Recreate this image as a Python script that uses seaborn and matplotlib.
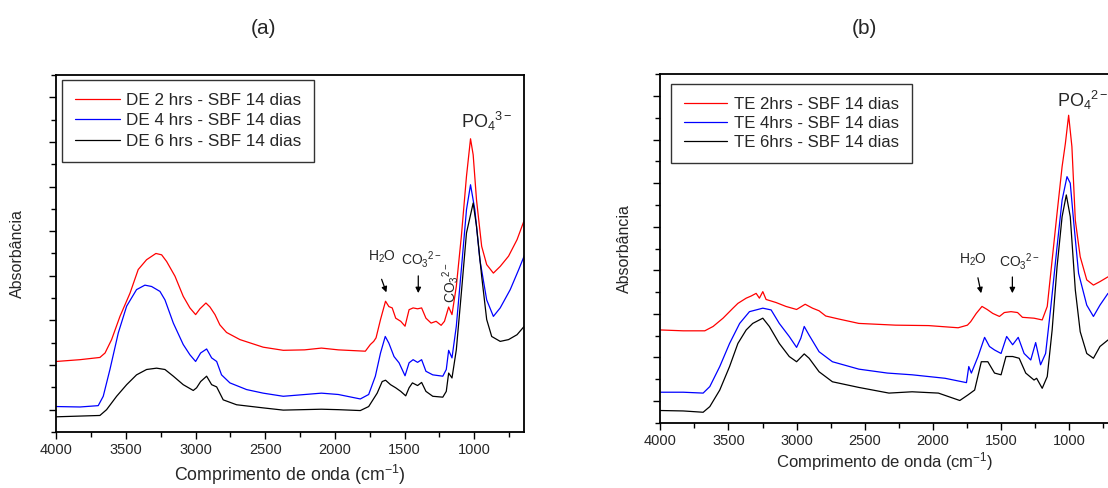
import seaborn as sns
import matplotlib.pyplot as plt
import pandas as pd
import matplotlib.ticker as ticker

# ---- panel (a): DE samples ----
de2_wn = [4000, 3830, 3687, 3650, 3603, 3543, 3471, 3412, 3352, 3285,
          3244, 3208, 3148, 3089, 3041, 3000, 2969, 2926, 2897, 2861,
          2826, 2778, 2682, 2515, 2371, 2218, 2097, 1976, 1782, 1746,
          1722, 1705, 1673, 1637, 1613, 1589, 1564, 1528, 1497, 1468,
          1439, 1407, 1378, 1347, 1310, 1274, 1238, 1214, 1184, 1160,
          1129, 1093, 1056, 1027, 1008, 984, 947, 911, 863, 814,
          754, 693, 641]
de2_abs = [1.08, 1.12, 1.17, 1.27, 1.57, 2.09, 2.61, 3.14, 3.36, 3.50,
           3.47, 3.32, 2.99, 2.54, 2.28, 2.13, 2.26, 2.39, 2.30, 2.13,
           1.90, 1.73, 1.57, 1.40, 1.33, 1.34, 1.38, 1.34, 1.31, 1.46,
           1.53, 1.61, 2.02, 2.43, 2.31, 2.28, 2.05, 1.98, 1.87, 2.24,
           2.28, 2.26, 2.28, 2.05, 1.94, 1.98, 1.89, 1.98, 2.30, 2.13,
           2.76, 3.88, 5.23, 6.07, 5.71, 4.70, 3.66, 3.25, 3.06, 3.21,
           3.44, 3.81, 4.25]

de4_wn = [4000, 3830, 3699, 3663, 3615, 3555, 3495, 3424, 3364, 3316,
          3256, 3220, 3160, 3089, 3041, 3000, 2964, 2921, 2885, 2849,
          2814, 2754, 2634, 2515, 2371, 2097, 1976, 1818, 1758, 1710,
          1673, 1639, 1613, 1576, 1540, 1497, 1468, 1439, 1407, 1378,
          1347, 1298, 1226, 1201, 1184, 1160, 1129, 1093, 1056, 1027,
          996, 960, 911, 863, 814, 742, 681, 641]
de4_abs = [0.07, 0.06, 0.09, 0.30, 0.90, 1.72, 2.32, 2.69, 2.79, 2.76,
           2.65, 2.46, 1.94, 1.46, 1.23, 1.08, 1.27, 1.36, 1.16, 1.08,
           0.78, 0.60, 0.45, 0.37, 0.30, 0.37, 0.34, 0.24, 0.34, 0.75,
           1.27, 1.64, 1.49, 1.19, 1.05, 0.76, 1.05, 1.12, 1.06, 1.12,
           0.86, 0.78, 0.75, 0.90, 1.33, 1.16, 1.87, 3.14, 4.48, 5.04,
           4.48, 3.36, 2.46, 2.09, 2.28, 2.69, 3.14, 3.45]

de6_wn = [4000, 3687, 3639, 3567, 3495, 3424, 3352, 3280, 3220, 3160,
          3089, 3017, 2993, 2964, 2921, 2885, 2849, 2802, 2706, 2515,
          2371, 2097, 1976, 1818, 1758, 1697, 1661, 1637, 1601, 1564,
          1528, 1492, 1468, 1444, 1407, 1378, 1347, 1298, 1226, 1201,
          1184, 1160, 1129, 1093, 1056, 1008, 984, 947, 911, 875,
          814, 754, 693, 641]
de6_abs = [-0.16, -0.13, 0.00, 0.30, 0.56, 0.78, 0.90, 0.93, 0.90, 0.75,
           0.56, 0.43, 0.49, 0.63, 0.75, 0.56, 0.51, 0.22, 0.11, 0.04,
           -0.01, 0.01, 0.00, -0.02, 0.07, 0.37, 0.63, 0.66, 0.56, 0.49,
           0.41, 0.31, 0.49, 0.60, 0.54, 0.61, 0.41, 0.30, 0.28, 0.41,
           0.82, 0.71, 1.34, 2.61, 3.96, 4.63, 4.11, 2.99, 2.02, 1.64,
           1.53, 1.57, 1.68, 1.87]

# ---- panel (b): TE samples ----
te2_wn = [4000, 3832, 3674, 3613, 3540, 3467, 3431, 3370, 3333, 3297,
          3273, 3248, 3224, 3151, 3078, 3000, 2937, 2883, 2835, 2786,
          2689, 2543, 2273, 2031, 1814, 1746, 1722, 1681, 1639, 1601,
          1560, 1511, 1475, 1426, 1378, 1342, 1257, 1197, 1160, 1124,
          1088, 1051, 1027, 1003, 979, 954, 918, 870, 821, 773,
          714]
te2_abs = [1.63, 1.61, 1.61, 1.71, 1.90, 2.13, 2.24, 2.36, 2.41, 2.47,
           2.36, 2.51, 2.33, 2.26, 2.17, 2.10, 2.22, 2.13, 2.07, 1.95,
           1.88, 1.78, 1.74, 1.73, 1.68, 1.74, 1.82, 2.01, 2.17, 2.10,
           2.01, 1.94, 2.03, 2.05, 2.03, 1.92, 1.90, 1.86, 2.17, 3.24,
           4.31, 5.38, 5.91, 6.56, 5.84, 4.15, 3.31, 2.78, 2.66, 2.74,
           2.85]

te4_wn = [4000, 3832, 3686, 3637, 3564, 3492, 3418, 3346, 3248, 3187,
          3127, 3054, 3000, 2969, 2944, 2908, 2835, 2737, 2543, 2334,
          2152, 1910, 1753, 1736, 1717, 1668, 1620, 1584, 1547, 1499,
          1458, 1414, 1373, 1330, 1281, 1245, 1209, 1172, 1136, 1088,
          1051, 1015, 991, 967, 930, 870, 821, 773, 714]
te4_abs = [0.20, 0.20, 0.18, 0.33, 0.79, 1.32, 1.78, 2.05, 2.13, 2.09,
           1.78, 1.48, 1.23, 1.44, 1.71, 1.51, 1.13, 0.90, 0.73, 0.64,
           0.60, 0.52, 0.42, 0.79, 0.64, 1.02, 1.46, 1.25, 1.17, 1.09,
           1.48, 1.29, 1.46, 1.09, 0.94, 1.34, 0.83, 1.09, 2.09, 3.54,
           4.61, 5.15, 5.00, 4.15, 2.93, 2.20, 1.94, 2.20, 2.47]

te6_wn = [4000, 3832, 3686, 3637, 3564, 3492, 3431, 3370, 3322, 3248,
          3200, 3127, 3054, 3000, 2944, 2908, 2835, 2737, 2543, 2322,
          2152, 1959, 1802, 1741, 1693, 1644, 1596, 1547, 1499, 1463,
          1414, 1366, 1318, 1257, 1238, 1197, 1160, 1124, 1088, 1051,
          1020, 991, 954, 918, 870, 821, 773, 714]
te6_abs = [-0.22, -0.23, -0.26, -0.13, 0.25, 0.79, 1.32, 1.63, 1.78, 1.90,
           1.71, 1.32, 1.02, 0.90, 1.08, 0.98, 0.67, 0.44, 0.31, 0.18,
           0.21, 0.18, 0.01, 0.14, 0.25, 0.90, 0.90, 0.64, 0.60, 1.02,
           1.02, 0.98, 0.64, 0.48, 0.52, 0.29, 0.56, 1.63, 3.08, 4.23,
           4.73, 4.23, 2.55, 1.59, 1.09, 0.98, 1.25, 1.40]

de_labels = ['DE 2 hrs - SBF 14 dias', 'DE 4 hrs - SBF 14 dias', 'DE 6 hrs - SBF 14 dias']
te_labels = ['TE 2hrs - SBF 14 dias', 'TE 4hrs - SBF 14 dias', 'TE 6hrs - SBF 14 dias']
colors = ['#ff0000', '#0000ff', '#000000']

sns.set_theme(style="white")
plt.rcParams['font.family'] = ['Liberation Sans', 'DejaVu Sans']
plt.rcParams['mathtext.fontset'] = 'custom'
plt.rcParams['mathtext.rm'] = 'Liberation Sans'
plt.rcParams['mathtext.it'] = 'Liberation Sans:italic'
plt.rcParams['axes.edgecolor'] = 'black'
plt.rcParams['axes.linewidth'] = 1.3


def make_df(series, labels):
    frames = []
    for (wn, ab), lab in zip(series, labels):
        frames.append(pd.DataFrame({'wn': wn, 'abs': ab, 'sample': lab}))
    return pd.concat(frames, ignore_index=True)


def style_axes(ax, xmin, label_size):
    ax.set_xlim(4000, xmin)
    ax.set_ylim(-0.5, 7.5)
    ax.xaxis.set_major_locator(ticker.MultipleLocator(500))
    ax.xaxis.set_minor_locator(ticker.MultipleLocator(250))
    ax.yaxis.set_major_locator(ticker.MultipleLocator(1))
    ax.yaxis.set_minor_locator(ticker.MultipleLocator(0.5))
    ax.yaxis.set_major_formatter(ticker.NullFormatter())
    ax.tick_params(which='both', direction='out', left=True, bottom=True,
                   top=False, right=False, color='black', width=1)
    ax.tick_params(which='major', length=5, labelsize=10.5, pad=3)
    ax.tick_params(which='minor', length=3.3)
    ax.set_xlabel('Comprimento de onda (cm$^{-1}$)', fontsize=label_size)
    ax.set_ylabel('Absorbância', fontsize=11.5)


def draw_panel(ax, df, labels, xmin, legend_anchor, leg_size, label_size, spacing):
    sns.lineplot(data=df, x='wn', y='abs', hue='sample', palette=colors,
                 hue_order=labels, sort=False, estimator=None, lw=0.9,
                 legend=False, ax=ax)
    style_axes(ax, xmin, label_size)
    leg = ax.legend(ax.lines[:3], labels, loc='upper left',
                    bbox_to_anchor=legend_anchor, borderaxespad=0,
                    fontsize=leg_size, handlelength=2.6, handletextpad=0.4,
                    labelspacing=spacing, borderpad=0.75, fancybox=False,
                    framealpha=1)
    leg.get_frame().set_edgecolor('#333333')
    leg.get_frame().set_linewidth(1.0)


arrow = dict(arrowstyle='-|>', color='black', lw=0.9, mutation_scale=8)

fig = plt.figure(figsize=(11.08, 4.88), dpi=100)

# panel (a)
ax1 = fig.add_axes([0.0508, 0.1148, 0.4224, 0.7316])
df_de = make_df([(de2_wn, de2_abs), (de4_wn, de4_abs), (de6_wn, de6_abs)], de_labels)
draw_panel(ax1, df_de, de_labels, 641, (0.0128, 0.986), 12.3, 12.8, 0.32)
ax1.xaxis.set_label_coords(0.5, -0.088)
ax1.yaxis.set_label_coords(-0.067, 0.5)
ax1.text(1766, 3.43, 'H$_2$O', fontsize=10, ha='left', va='center')
ax1.annotate('', xy=(1624, 2.57), xytext=(1672, 2.98), arrowprops=arrow)
ax1.text(1528, 3.37, 'CO$_3$$^{2-}$', fontsize=10, ha='left', va='center')
ax1.annotate('', xy=(1402, 2.55), xytext=(1402, 3.06), arrowprops=arrow)
ax1.text(1174, 2.84, 'CO$_3$$^{2-}$', fontsize=10, ha='center', va='center',
         rotation=90)
ax1.text(1095, 6.45, 'PO$_4$$^{3-}$', fontsize=13, ha='left', va='center')

# panel (b)
ax2 = fig.add_axes([0.5960, 0.1338, 0.4040, 0.7139])
df_te = make_df([(te2_wn, te2_abs), (te4_wn, te4_abs), (te6_wn, te6_abs)], te_labels)
draw_panel(ax2, df_te, te_labels, 714, (0.0239, 0.9713), 12.1, 12.0, 0.25)
ax2.spines['right'].set_visible(False)
ax2.xaxis.set_label_coords(0.5, -0.08)
ax2.yaxis.set_label_coords(-0.063, 0.5)
ax2.text(1810, 3.25, 'H$_2$O', fontsize=10, ha='left', va='center')
ax2.annotate('', xy=(1641, 2.41), xytext=(1673, 2.89), arrowprops=arrow)
ax2.text(1514, 3.20, 'CO$_3$$^{2-}$', fontsize=10, ha='left', va='center')
ax2.annotate('', xy=(1416, 2.41), xytext=(1416, 2.91), arrowprops=arrow)
ax2.text(1090, 6.91, 'PO$_4$$^{2-}$', fontsize=13, ha='left', va='center')

fig.text(263 / 1108, 1 - 28 / 488, '(a)', fontsize=15, ha='center', va='center')
fig.text(864 / 1108, 1 - 28 / 488, '(b)', fontsize=15, ha='center', va='center')

fig.savefig('out.png', dpi=100)
